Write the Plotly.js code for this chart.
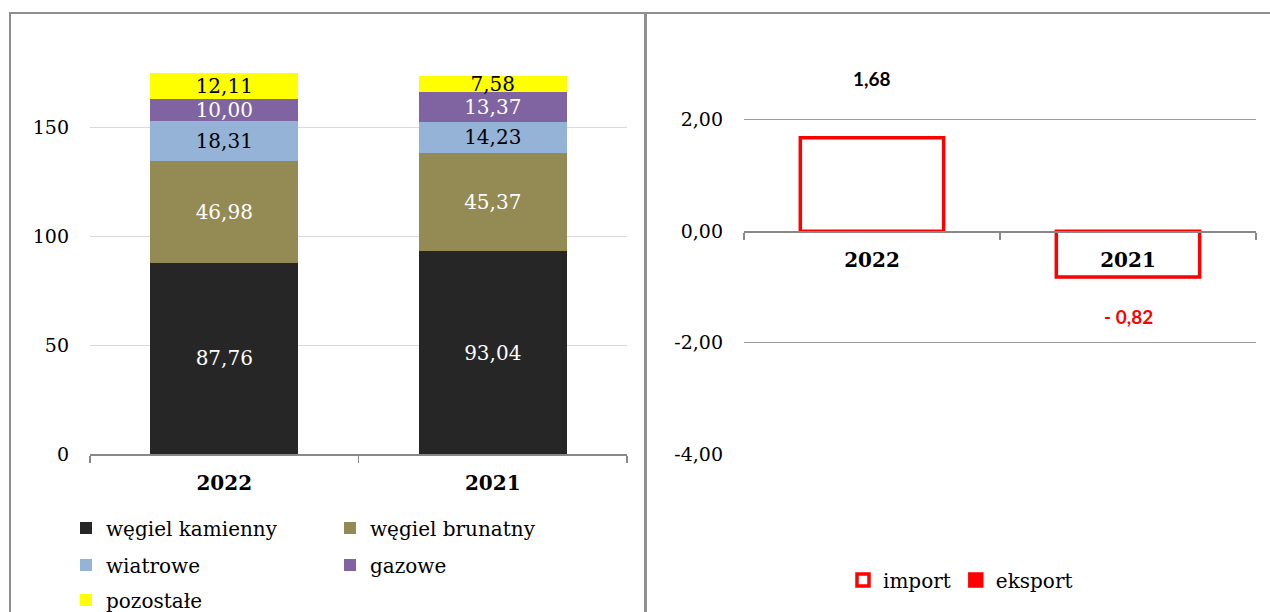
<!DOCTYPE html>
<html>
<head>
<meta charset="utf-8">
<script src="https://cdn.plot.ly/plotly-3.0.1.min.js"></script>
<style>
  html, body { margin: 0; padding: 0; background: #ffffff; }
  body { width: 1270px; height: 612px; position: relative; overflow: hidden; }
  #left { position: absolute; left: 0; top: 0; width: 646px; height: 612px; }
  #right { position: absolute; left: 646px; top: 0; width: 624px; height: 612px; }
  .ln { position: absolute; background: #8f8f8f; z-index: 10; }
</style>
</head>
<body>
<div id="left"></div>
<div id="right"></div>
<div class="ln" style="left:9px; top:12px; width:1261px; height:2px;"></div>
<div class="ln" style="left:9px; top:12px; width:2px; height:600px;"></div>
<div class="ln" style="left:644px; top:12px; width:3px; height:600px;"></div>
<script>
// ---------- data ----------
const years = ['2022', '2021'];
const wegielKamienny = [87.76, 93.04];
const wegielBrunatny = [46.98, 45.37];
const wiatrowe = [18.31, 14.23];
const gazowe = [10.00, 13.37];
const pozostale = [12.11, 7.58];
const seriesNames = ['węgiel kamienny', 'węgiel brunatny', 'wiatrowe', 'gazowe', 'pozostałe'];
const seriesValues = [wegielKamienny, wegielBrunatny, wiatrowe, gazowe, pozostale];
const leftTickVals = [0, 50, 100, 150];
const leftTickText = ['0', '50', '100', '150'];

const saldoImport = [1.68, null];
const saldoEksport = [null, -0.82];
const rightNames = ['import', 'eksport'];
const rightTickVals = [-4, -2, 0, 2];
const rightTickText = ['-4,00', '-2,00', '0,00', '2,00'];

// ---------- styles ----------
const SERIF = 'DejaVu Serif, serif';
const SANS = 'Lato, Noto Sans, sans-serif';
const seriesColors = ['#262626', '#948a54', '#95b3d7', '#8064a2', '#ffff00'];
const labelColors = ['#ffffff', '#ffffff', '#000000', '#ffffff', '#000000'];

// ---------- left chart ----------
const L = { w: 646, h: 612, l: 90, r: 19, t: 62, b: 158 };
const leftRange = [0, 180];
const lpw = L.w - L.l - L.r, lph = L.h - L.t - L.b;
const legPos = [
  { px: 66, py: 528 }, { px: 330, py: 528 },
  { px: 66, py: 565 }, { px: 330, py: 565 },
  { px: 66, py: 600 }
];
const leftTraces = seriesNames.map((name, i) => ({
  type: 'bar', name: name, x: years, y: seriesValues[i],
  marker: { color: seriesColors[i], line: { width: 0 } },
  texttemplate: '%{y:.2f}', textposition: 'inside', insidetextanchor: 'middle',
  textangle: 0, constraintext: 'none', cliponaxis: false,
  textfont: { family: SERIF, size: 20, color: labelColors[i] },
  hoverinfo: 'skip',
  legend: i === 0 ? 'legend' : 'legend' + (i + 1)
}));
const leftLayout = {
  width: L.w, height: L.h, separators: ', ',
  margin: { l: L.l, r: L.r, t: L.t, b: L.b, autoexpand: false },
  paper_bgcolor: 'rgba(0,0,0,0)', plot_bgcolor: 'rgba(0,0,0,0)',
  barmode: 'stack', bargap: 0.449,
  font: { family: SERIF, size: 19, color: '#000' },
  xaxis: {
    type: 'category', showline: true, linecolor: '#888888', linewidth: 1.5,
    ticks: 'outside', tickson: 'boundaries', ticklen: 7, tickcolor: '#888888', tickwidth: 1.5,
    tickfont: { family: SERIF, size: 20, color: '#000', weight: 'bold' },
    ticklabelstandoff: 10, showgrid: false, fixedrange: true
  },
  yaxis: {
    range: leftRange, tickvals: leftTickVals, ticktext: leftTickText,
    showline: false, showgrid: true, gridcolor: '#d9d9d9', gridwidth: 1, zeroline: false,
    ticks: '', tickfont: { family: SERIF, size: 19, color: '#000' }, ticklabelstandoff: 20,
    fixedrange: true
  },
  showlegend: true
};
legPos.forEach((p, i) => {
  const key = i === 0 ? 'legend' : 'legend' + (i + 1);
  leftLayout[key] = {
    orientation: 'h', x: (p.px - L.l) / lpw, y: (L.h - L.b - p.py) / lph,
    xanchor: 'left', yanchor: 'middle', bgcolor: 'rgba(0,0,0,0)', borderwidth: 0,
    font: { family: SERIF, size: 20, color: '#000' }, itemclick: false, itemdoubleclick: false
  };
});
Plotly.newPlot('left', leftTraces, leftLayout, { staticPlot: true, displayModeBar: false });

// ---------- right chart ----------
const R = { w: 624, h: 612, l: 98, r: 14, t: 53, b: 158 };
const rightRange = [-4, 3.2];
const rpw = R.w - R.l - R.r, rph = R.h - R.t - R.b;
const fmt = v => (v < 0 ? '- ' : '') + Math.abs(v).toFixed(2).replace('.', ',');
const rightTraces = [
  {
    type: 'bar', name: rightNames[0], x: years, y: saldoImport,
    marker: { color: '#ffffff', line: { color: '#ff0000', width: 3.5 } },
    hoverinfo: 'skip', cliponaxis: false
  },
  {
    type: 'bar', name: rightNames[1], x: years, y: saldoEksport,
    marker: { color: ['#ff0000', '#ffffff'], line: { color: '#ff0000', width: 3.5 } },
    hoverinfo: 'skip', cliponaxis: false
  }
];
const annots = [];
saldoImport.forEach((v, i) => {
  if (v !== null) annots.push({ x: i, y: v, text: fmt(v), showarrow: false, yshift: 59,
    font: { family: SANS, size: 19, color: '#000000', weight: 'bold' } });
});
saldoEksport.forEach((v, i) => {
  if (v !== null) annots.push({ x: i, y: v, text: fmt(v), showarrow: false, yshift: -40,
    font: { family: SANS, size: 19, color: '#ff0000', weight: 'bold' } });
});
const rightLayout = {
  width: R.w, height: R.h, separators: ', ',
  margin: { l: R.l, r: R.r, t: R.t, b: R.b, autoexpand: false },
  paper_bgcolor: 'rgba(0,0,0,0)', plot_bgcolor: 'rgba(0,0,0,0)',
  barmode: 'relative', bargap: 0.44,
  font: { family: SERIF, size: 19, color: '#000' },
  xaxis: {
    type: 'category', anchor: 'free',
    position: (0 - rightRange[0]) / (rightRange[1] - rightRange[0]),
    range: [-0.5, years.length - 0.5],
    showline: true, linecolor: '#888888', linewidth: 1.5,
    ticks: 'outside', tickson: 'boundaries', ticklen: 7, tickcolor: '#888888', tickwidth: 1.5,
    tickfont: { family: SERIF, size: 20, color: '#000', weight: 'bold' },
    ticklabelstandoff: 10, showgrid: false, fixedrange: true
  },
  yaxis: {
    range: rightRange, tickvals: rightTickVals, ticktext: rightTickText,
    showline: false, showgrid: true, gridcolor: '#999999', gridwidth: 1.2, zeroline: false,
    ticks: '', tickfont: { family: SERIF, size: 19, color: '#000' }, ticklabelstandoff: 20,
    fixedrange: true
  },
  annotations: annots,
  showlegend: true,
  legend: {
    orientation: 'h', x: (843 - 646 - R.l) / rpw, y: (R.h - R.b - 580) / rph,
    xanchor: 'left', yanchor: 'middle', bgcolor: 'rgba(0,0,0,0)', borderwidth: 0,
    font: { family: SERIF, size: 20, color: '#000' }, itemclick: false, itemdoubleclick: false
  }
};
Plotly.newPlot('right', rightTraces, rightLayout, { staticPlot: true, displayModeBar: false });
</script>
</body>
</html>
